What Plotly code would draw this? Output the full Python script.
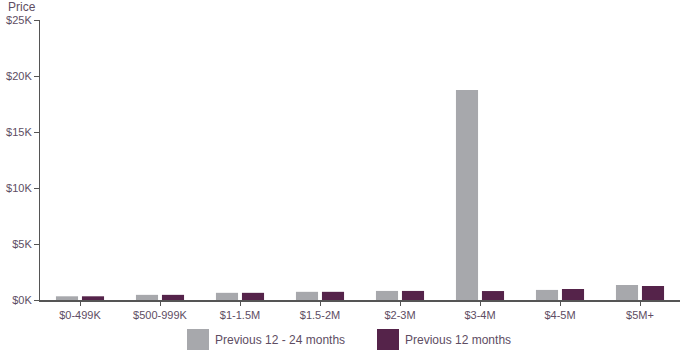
import plotly.graph_objects as go

categories = ["$0-499K", "$500-999K", "$1-1.5M", "$1.5-2M", "$2-3M", "$3-4M", "$4-5M", "$5M+"]
prev_12_24 = [330, 460, 640, 730, 810, 18750, 900, 1340]
prev_12 = [330, 460, 640, 730, 810, 800, 980, 1250]
series_names = ["Previous 12 - 24 months", "Previous 12 months"]
series_colors = ["#a7a8ac", "#55234a"]
y_tickvals = [0, 5000, 10000, 15000, 20000, 25000]
y_ticktext = ["$0K", "$5K", "$10K", "$15K", "$20K", "$25K"]

txt = "#5e4d63"
fig = go.Figure()
for name, vals, col in zip(series_names, [prev_12_24, prev_12], series_colors):
    fig.add_trace(go.Bar(x=categories, y=vals, name=name, marker_color=col,
                         marker_line_width=0, showlegend=False))

fig.update_layout(
    width=700, height=350,
    margin=dict(l=40, r=20, t=20, b=50),
    paper_bgcolor="white", plot_bgcolor="white",
    barmode="group", bargap=0.35, bargroupgap=0.15,
    font=dict(family="Liberation Sans, Arial, sans-serif", size=11, color=txt),
    xaxis=dict(showline=True, linecolor="#555555", linewidth=2, ticks="outside",
               ticklen=4, tickcolor="#555555", showgrid=False, zeroline=False,
               range=[-0.5, 7.5], tickfont=dict(size=11, color=txt),
               automargin=False),
    yaxis=dict(showline=True, linecolor="#555555", linewidth=1, ticks="outside",
               ticklen=5, tickcolor="#555555", showgrid=False, zeroline=False,
               range=[0, 25000], tickvals=y_tickvals, ticktext=y_ticktext,
               tickfont=dict(size=11, color=txt), automargin=False),
)

fig.add_annotation(text="Price", xref="paper", yref="paper", x=0.0, y=1.0,
                   xanchor="right", yanchor="bottom", showarrow=False,
                   font=dict(size=12, color=txt), yshift=4, xshift=-2)

# custom legend
leg_x = [187, 377]
for px, name, col in zip(leg_x, series_names, series_colors):
    x0 = (px - 40) / 640
    x1 = (px + 22 - 40) / 640
    fig.add_shape(type="rect", xref="paper", yref="paper", x0=x0, x1=x1,
                  y0=(300 - 350) / 280, y1=(300 - 329) / 280,
                  fillcolor=col, line_width=0)
    fig.add_annotation(text=name, xref="paper", yref="paper",
                       x=(px + 26 - 40) / 640, y=(300 - 340) / 280,
                       xanchor="left", yanchor="middle", showarrow=False,
                       font=dict(size=12, color=txt))

fig.write_html("out.html")
